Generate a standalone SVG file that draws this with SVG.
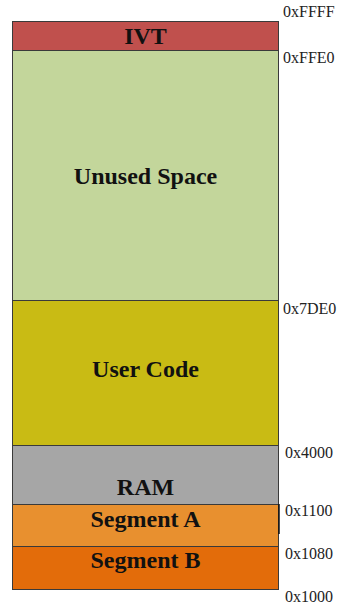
<svg xmlns="http://www.w3.org/2000/svg" width="341" height="606" viewBox="0 0 341 606">
  <style>
    .blk { stroke: #3a3a3a; stroke-width: 1; }
    .name { font-family: "Liberation Serif", "Times New Roman", serif; font-weight: bold; font-size: 24px; fill: #111; text-anchor: middle; }
    .addr { font-family: "Liberation Serif", "Times New Roman", serif; font-size: 16px; fill: #222; }
  </style>
  <rect width="341" height="606" fill="#ffffff"/>

  <g id="ivt">
    <rect class="blk" x="12.5" y="21.5" width="266" height="29" fill="#c0504d"/>
    <text class="name" x="145.5" y="44">IVT</text>
  </g>
  <g id="unused-space">
    <rect class="blk" x="12.5" y="50.5" width="266" height="250" fill="#c3d69b"/>
    <text class="name" x="145.5" y="184">Unused Space</text>
  </g>
  <g id="user-code">
    <rect class="blk" x="12.5" y="300.5" width="266" height="145" fill="#c9bb14"/>
    <text class="name" x="145.5" y="377">User Code</text>
  </g>
  <g id="ram">
    <rect class="blk" x="12.5" y="445.5" width="266" height="59" fill="#a6a6a6"/>
    <text class="name" x="145.5" y="495">RAM</text>
  </g>
  <g id="segment-a">
    <rect class="blk" x="12.5" y="504.5" width="266" height="42" fill="#e8902f"/>
    <line x1="279" y1="504" x2="279" y2="534" stroke="#111" stroke-width="1.5"/>
    <text class="name" x="145.5" y="527">Segment A</text>
  </g>
  <g id="segment-b">
    <rect class="blk" x="12.5" y="546.5" width="266" height="43" fill="#e36c0a"/>
    <text class="name" x="145.5" y="568">Segment B</text>
  </g>

  <g id="addresses">
    <text class="addr" x="283" y="17">0xFFFF</text>
    <text class="addr" x="283" y="63">0xFFE0</text>
    <text class="addr" x="283" y="314">0x7DE0</text>
    <text class="addr" x="285" y="458">0x4000</text>
    <text class="addr" x="285" y="516">0x1100</text>
    <text class="addr" x="285" y="559">0x1080</text>
    <text class="addr" x="285" y="602">0x1000</text>
  </g>
</svg>
